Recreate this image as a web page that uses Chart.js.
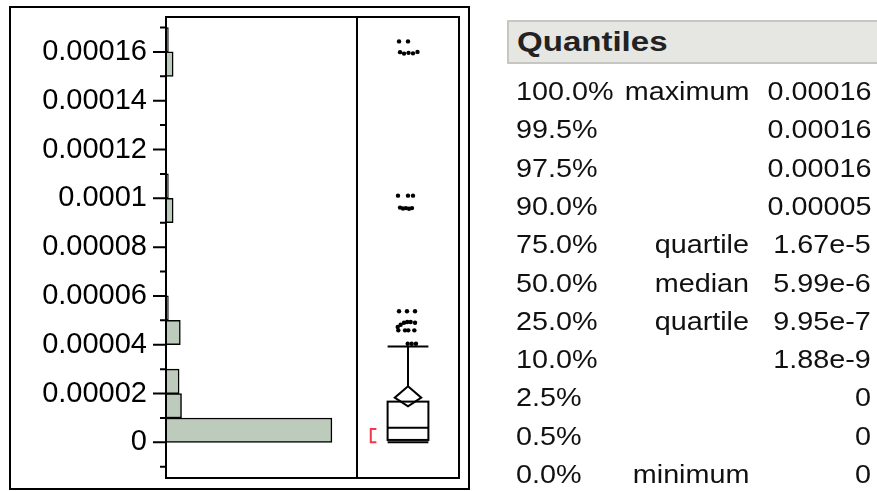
<!DOCTYPE html>
<html lang="en">
<head>
<meta charset="UTF-8" />
<title>Distribution</title>
<script src="https://cdn.jsdelivr.net/npm/chart.js"></script>
<style>
  body { margin: 0; background: #fff; font-family: "Liberation Sans", Arial, sans-serif; }
  .page { position: relative; width: 877px; height: 491px; overflow: hidden; }
  .outer { position: absolute; left: 9px; top: 6px; width: 461px; height: 484px; border: 2px solid #000; box-sizing: border-box; }
  #hist { position: absolute; left: 0; top: 0; }
  #box { position: absolute; left: 350px; top: 0; }
  .qhead { position: absolute; left: 507px; top: 20px; width: 370px; height: 44px; box-sizing: border-box;
           background: #e6e6e2; border: 2px solid #c6c6c2; border-right: none; }
  .qhead span { position: absolute; left: 8px; top: 0; line-height: 40px; font-weight: bold; font-size: 28px;
                color: #222; transform: scaleX(1.18); transform-origin: left center; }
  .qrow { position: absolute; left: 0; width: 877px; height: 38px; line-height: 38px; font-size: 25px; color: #111; }
  .qrow span { position: absolute; top: 0; white-space: nowrap; transform: scaleX(1.15); }
  .pct { left: 516px; transform-origin: left center; }
  .nm { right: 128px; transform-origin: right center; }
  .val { right: 6px; transform-origin: right center; }
</style>
</head>
<body>
<div class="page">
  <div class="outer"></div>
  <canvas id="hist" width="359" height="491"></canvas>
  <canvas id="box" width="120" height="491"></canvas>
  <div class="qhead"><span>Quantiles</span></div>
</div>

<script>
  // histogram bins (lower edge, width 0.00001) and counts
  const binWidth = 0.00001;
  const binLows = [0, 0.00001, 0.00002, 0.00003, 0.00004, 0.00005, 0.00006, 0.00007, 0.00008,
                   0.00009, 0.0001, 0.00011, 0.00012, 0.00013, 0.00014, 0.00015, 0.00016];
  const binCounts = [139, 13, 11, 0, 12, 2, 0, 0, 0, 6, 2, 0, 0, 0, 0, 6, 2];

  // axis ticks
  const tickValues = [0, 0.00002, 0.00004, 0.00006, 0.00008, 0.0001, 0.00012, 0.00014, 0.00016];
  const tickLabels = ['0', '0.00002', '0.00004', '0.00006', '0.00008', '0.0001', '0.00012', '0.00014', '0.00016'];
  const minorTickValues = [-0.00001, 0.00001, 0.00003, 0.00005, 0.00007, 0.00009, 0.00011, 0.00013, 0.00015, 0.00017];
  const yMin = -0.0000146;
  const yMax = 0.0001743;

  // box plot: whisker low, q1, median, q3, whisker high
  const boxFiveNum = [0, 0.000000995, 0.00000599, 0.0000167, 0.0000393];
  // mean diamond: lower ci, mean, upper ci
  const meanDiamond = [0.00001475, 0.0000183, 0.00002295];
  // shortest half
  const shortestHalf = [0, 0.0000055];

  // outlier points (value, horizontal jitter in box panel)
  const outlierValues = [
    0.0001643, 0.0001643,
    0.0001599, 0.0001593, 0.0001596, 0.0001594, 0.00016,
    0.0001011, 0.0001011, 0.0001011,
    0.0000962, 0.0000958, 0.000096, 0.0000957, 0.000096,
    0.0000537, 0.0000537, 0.0000537,
    0.0000482, 0.000049, 0.0000493, 0.0000493, 0.000049, 0.0000473,
    0.0000459, 0.0000459, 0.0000459, 0.0000459,
    0.0000404, 0.0000404, 0.0000404
  ];
  const outlierJitter = [
    0.412, 0.5,
    0.422, 0.461, 0.505, 0.549, 0.593,
    0.402, 0.5, 0.549,
    0.422, 0.451, 0.48, 0.51, 0.539,
    0.412, 0.49, 0.569,
    0.428, 0.461, 0.493, 0.526, 0.569, 0.399,
    0.405, 0.471, 0.503, 0.562,
    0.497, 0.536, 0.578
  ];

  // quantiles table
  const quantPct = ['100.0%', '99.5%', '97.5%', '90.0%', '75.0%', '50.0%', '25.0%', '10.0%', '2.5%', '0.5%', '0.0%'];
  const quantName = ['maximum', '', '', '', 'quartile', 'median', 'quartile', '', '', '', 'minimum'];
  const quantVal = ['0.00016', '0.00016', '0.00016', '0.00005', '1.67e-5', '5.99e-6', '9.95e-7', '1.88e-9', '0', '0', '0'];

  Chart.defaults.font.family = '"Liberation Sans", Arial, sans-serif';
  Chart.defaults.color = '#000';

  const framePlugin = {
    id: 'frame',
    afterDraw(chart) {
      const { ctx, chartArea: a } = chart;
      ctx.save();
      ctx.strokeStyle = '#000';
      ctx.lineWidth = 2;
      ctx.strokeRect(a.left, a.top, a.right - a.left, a.bottom - a.top);
      ctx.restore();
    }
  };

  const tickPlugin = {
    id: 'yticks',
    afterDraw(chart) {
      const { ctx, chartArea: a, scales: { y } } = chart;
      ctx.save();
      ctx.strokeStyle = '#000';
      ctx.lineWidth = 2;
      ctx.beginPath();
      tickValues.forEach(v => { const p = y.getPixelForValue(v); ctx.moveTo(a.left - 13, p); ctx.lineTo(a.left, p); });
      minorTickValues.forEach(v => { const p = y.getPixelForValue(v); ctx.moveTo(a.left - 6, p); ctx.lineTo(a.left, p); });
      ctx.stroke();
      ctx.restore();
    }
  };

  new Chart(document.getElementById('hist'), {
    type: 'bar',
    data: {
      datasets: [{
        data: binLows.map((lo, i) => ({ x: binCounts[i], y: lo + binWidth / 2 })),
        backgroundColor: '#bccbbb',
        borderColor: '#000',
        borderWidth: c => (c.raw && c.raw.x > 0 ? 1.5 : 0),
        categoryPercentage: 1,
        barPercentage: 1
      }]
    },
    options: {
      indexAxis: 'y',
      responsive: false,
      animation: false,
      layout: { padding: { top: 17, bottom: 13, left: 0, right: 2 } },
      plugins: { legend: { display: false }, tooltip: { enabled: false } },
      scales: {
        x: { type: 'linear', display: false, min: 0, max: 160 },
        y: {
          type: 'linear',
          min: yMin,
          max: yMax,
          offset: false,
          grid: { display: false, drawTicks: false },
          border: { display: false },
          afterBuildTicks: s => { s.ticks = tickValues.map(v => ({ value: v })); },
          afterFit: s => { s.width = 166; s.paddingTop = 0; s.paddingBottom = 0; },
          ticks: {
            padding: 19,
            color: '#000',
            font: { size: 29 },
            callback: v => tickLabels[tickValues.indexOf(v)]
          }
        }
      }
    },
    plugins: [framePlugin, tickPlugin]
  });

  const boxPlugin = {
    id: 'boxplot',
    beforeDatasetsDraw(chart) {
      const { ctx, scales: { x, y } } = chart;
      const [lo, q1, med, q3, hi] = boxFiveNum;
      const c = x.getPixelForValue(0.5);
      const l = x.getPixelForValue(0.3);
      const r = x.getPixelForValue(0.7);
      const seg = (x1, y1, x2, y2) => { ctx.beginPath(); ctx.moveTo(x1, y1); ctx.lineTo(x2, y2); ctx.stroke(); };
      ctx.save();
      ctx.strokeStyle = '#000';
      ctx.lineWidth = 2;
      // whiskers
      seg(c, y.getPixelForValue(q3), c, y.getPixelForValue(hi));
      seg(l, y.getPixelForValue(hi), r, y.getPixelForValue(hi));
      seg(l, y.getPixelForValue(lo), r, y.getPixelForValue(lo));
      // mean diamond
      const dl = x.getPixelForValue(0.37), dr = x.getPixelForValue(0.63);
      ctx.beginPath();
      ctx.moveTo(c, y.getPixelForValue(meanDiamond[2]));
      ctx.lineTo(dr, y.getPixelForValue(meanDiamond[1]));
      ctx.lineTo(c, y.getPixelForValue(meanDiamond[0]));
      ctx.lineTo(dl, y.getPixelForValue(meanDiamond[1]));
      ctx.closePath();
      ctx.fillStyle = '#fff';
      ctx.fill();
      ctx.stroke();
      // box
      ctx.strokeRect(l, y.getPixelForValue(q3), r - l, y.getPixelForValue(q1) - y.getPixelForValue(q3));
      seg(l, y.getPixelForValue(med), r, y.getPixelForValue(med));
      // shortest half bracket
      const bl = x.getPixelForValue(0.135), br = x.getPixelForValue(0.19);
      const bt = y.getPixelForValue(shortestHalf[1]), bb = y.getPixelForValue(shortestHalf[0]);
      ctx.strokeStyle = '#ee3a4c';
      ctx.beginPath();
      ctx.moveTo(br, bt); ctx.lineTo(bl, bt); ctx.lineTo(bl, bb); ctx.lineTo(br, bb);
      ctx.stroke();
      ctx.restore();
    }
  };

  new Chart(document.getElementById('box'), {
    type: 'scatter',
    data: {
      datasets: [{
        data: outlierValues.map((v, i) => ({ x: outlierJitter[i], y: v })),
        backgroundColor: '#000',
        borderWidth: 0,
        pointRadius: 2.2
      }]
    },
    options: {
      responsive: false,
      animation: false,
      layout: { padding: { top: 17, bottom: 13, left: 7, right: 11 } },
      plugins: { legend: { display: false }, tooltip: { enabled: false } },
      scales: {
        x: { type: 'linear', display: false, min: 0, max: 1 },
        y: { type: 'linear', display: false, min: yMin, max: yMax }
      }
    },
    plugins: [boxPlugin, framePlugin]
  });

  const page = document.querySelector('.page');
  quantPct.forEach((p, i) => {
    const row = document.createElement('div');
    row.className = 'qrow';
    row.style.top = (72 + i * 38.3) + 'px';
    row.innerHTML = '<span class="pct">' + p + '</span><span class="nm">' + quantName[i] +
                    '</span><span class="val">' + quantVal[i] + '</span>';
    page.appendChild(row);
  });
</script>
</body>
</html>
